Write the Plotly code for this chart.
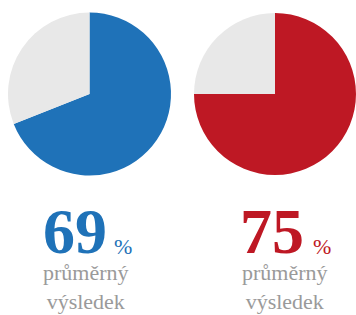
import plotly.graph_objects as go

W, H = 356, 315

labels = ["průměrný výsledek", "zbytek"]
values_blue = [69, 31]
values_red = [75, 25]
scores = ["69", "75"]
colors_blue = ["#1f72b8", "#e8e8e8"]
colors_red = ["#be1824", "#e8e8e8"]
caption = "průměrný<br>výsledek"


def px(x):
    return x / W


def py(y):
    return 1 - y / H


fig = go.Figure()
fig.add_trace(go.Pie(
    labels=labels, values=values_blue, sort=False, direction="clockwise", rotation=0,
    marker=dict(colors=colors_blue, line=dict(width=0)), textinfo="none", hoverinfo="skip",
    domain=dict(x=[px(8), px(171)], y=[py(175.5), py(12.5)]), showlegend=False,
))
fig.add_trace(go.Pie(
    labels=labels, values=values_red, sort=False, direction="clockwise", rotation=0,
    marker=dict(colors=colors_red, line=dict(width=0)), textinfo="none", hoverinfo="skip",
    domain=dict(x=[px(194), px(356)], y=[py(175.5), py(12.5)]), showlegend=False,
))

serif = "Liberation Serif"
blocks = [
    dict(score=scores[0], color=colors_blue[0], num_x=41, pct_x=112, cap_x=85.5),
    dict(score=scores[1], color=colors_red[0], num_x=238, pct_x=311, cap_x=284.5),
]
for b in blocks:
    fig.add_annotation(text="<b>" + b["score"] + "</b>", x=px(b["num_x"]), y=py(269),
                       xref="paper", yref="paper", xanchor="left", yanchor="bottom",
                       showarrow=False, font=dict(family=serif, size=64, color=b["color"]))
    fig.add_annotation(text="%", x=px(b["pct_x"]), y=py(261),
                       xref="paper", yref="paper", xanchor="left", yanchor="bottom",
                       showarrow=False, font=dict(family=serif, size=22, color=b["color"]))
    fig.add_annotation(text=caption, x=px(b["cap_x"]), y=py(258),
                       xref="paper", yref="paper", xanchor="center", yanchor="top",
                       showarrow=False, font=dict(family=serif, size=22, color="#9a9a9a"))

fig.update_layout(width=W, height=H, margin=dict(l=0, r=0, t=0, b=0),
                  paper_bgcolor="white", plot_bgcolor="white")
fig.write_html("out.html", config={"displayModeBar": False},
               post_script="document.body.style.margin='0';document.body.style.overflow='hidden';")
